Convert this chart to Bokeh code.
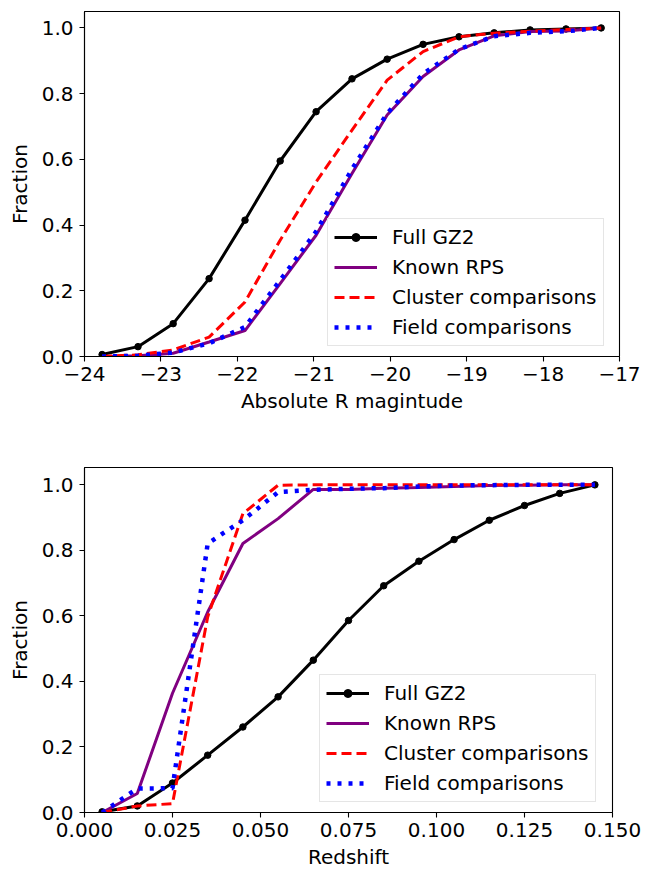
from bokeh.plotting import figure
from bokeh.models import Range1d, FixedTicker, Legend, LegendItem
from bokeh.layouts import column
from bokeh.embed import file_html
from bokeh.resources import INLINE

# ---------------- data ----------------
mag_x = [-23.77, -23.30, -22.84, -22.37, -21.90, -21.44, -20.97, -20.50,
         -20.04, -19.57, -19.10, -18.64, -18.17, -17.70, -17.24]
mag_full = [0.006, 0.03, 0.10, 0.237, 0.415, 0.595, 0.745, 0.845, 0.905,
            0.95, 0.973, 0.985, 0.994, 0.997, 1.0]
mag_rps = [0.0, 0.002, 0.01, 0.044, 0.079, 0.222, 0.369, 0.557, 0.735,
           0.852, 0.933, 0.976, 0.989, 0.991, 1.0]
mag_cluster = [0.0, 0.005, 0.02, 0.059, 0.166, 0.354, 0.531, 0.689, 0.841,
               0.928, 0.973, 0.984, 0.99, 0.995, 1.0]
mag_field = [0.0, 0.002, 0.012, 0.04, 0.09, 0.232, 0.38, 0.57, 0.74,
             0.86, 0.935, 0.975, 0.985, 0.99, 1.0]

z_x = [0.005, 0.015, 0.025, 0.035, 0.045, 0.055, 0.065, 0.075, 0.085,
       0.095, 0.105, 0.115, 0.125, 0.135, 0.145]
z_full = [0.002, 0.02, 0.09, 0.175, 0.261, 0.353, 0.465, 0.586, 0.692,
          0.767, 0.833, 0.892, 0.937, 0.974, 1.0]
z_rps = [0.0, 0.058, 0.364, 0.612, 0.821, 0.897, 0.986, 0.986, 0.99,
         0.992, 0.995, 0.998, 0.999, 1.0, 1.0]
z_cluster = [0.0, 0.02, 0.027, 0.597, 0.912, 0.999, 1.0, 1.0, 1.0,
             1.0, 1.0, 1.0, 1.0, 1.0, 1.0]
z_field = [0.0, 0.073, 0.074, 0.821, 0.892, 0.978, 0.985, 0.988, 0.99,
           0.995, 0.998, 0.999, 1.0, 1.0, 1.0]

series_names = ["Full GZ2", "Known RPS", "Cluster comparisons", "Field comparisons"]

top_xticks = [-24, -23, -22, -21, -20, -19, -18, -17]
top_xlabels = ["\u221224", "\u221223", "\u221222", "\u221221", "\u221220",
               "\u221219", "\u221218", "\u221217"]
bot_xticks = [0.0, 0.025, 0.05, 0.075, 0.1, 0.125, 0.15]
bot_xlabels = ["0.000", "0.025", "0.050", "0.075", "0.100", "0.125", "0.150"]
yticks = [0.0, 0.2, 0.4, 0.6, 0.8, 1.0]
ylabels = ["0.0", "0.2", "0.4", "0.6", "0.8", "1.0"]

FONT = "DejaVu Sans"
FS = "20px"


def style(p, xticks, xlabels, xlabel):
    p.xgrid.visible = False
    p.ygrid.visible = False
    p.outline_line_color = "black"
    p.outline_line_width = 1.1
    p.background_fill_color = "white"
    p.border_fill_color = "white"
    p.xaxis.ticker = FixedTicker(ticks=xticks)
    p.xaxis.major_label_overrides = {t: l for t, l in zip(xticks, xlabels)}
    p.yaxis.ticker = FixedTicker(ticks=yticks)
    p.yaxis.major_label_overrides = {t: l for t, l in zip(yticks, ylabels)}
    p.xaxis.axis_label = xlabel
    p.yaxis.axis_label = "Fraction"
    for ax in (p.xaxis[0], p.yaxis[0]):
        ax.axis_line_color = "black"
        ax.axis_line_width = 1.1
        ax.major_tick_line_color = "black"
        ax.major_tick_line_width = 1.1
        ax.major_tick_in = 0
        ax.major_tick_out = 5
        ax.minor_tick_line_color = None
        ax.major_label_text_font = FONT
        ax.major_label_text_font_size = FS
        ax.major_label_text_color = "black"
        ax.axis_label_text_font = FONT
        ax.axis_label_text_font_size = FS
        ax.axis_label_text_font_style = "normal"
        ax.axis_label_text_color = "black"
    p.xaxis.major_label_standoff = 5
    p.yaxis.major_label_standoff = 6
    p.xaxis.axis_label_standoff = 5
    p.yaxis.axis_label_standoff = 7


def draw(p, x, full, rps, cluster, field, loc):
    r_full = p.line(x, full, line_color="black", line_width=3)
    r_pts = p.scatter(x, full, size=6.5, fill_color="black", line_color="black")
    r_rps = p.line(x, rps, line_color="purple", line_width=3)
    r_cl = p.line(x, cluster, line_color="red", line_width=3,
                  line_dash="10 5")
    r_fd = p.line(x, field, line_color="blue", line_width=4.5,
                  line_dash="4 7")
    legend = Legend(items=[
        LegendItem(label=series_names[0], renderers=[r_full, r_pts]),
        LegendItem(label=series_names[1], renderers=[r_rps]),
        LegendItem(label=series_names[2], renderers=[r_cl]),
        LegendItem(label=series_names[3], renderers=[r_fd]),
    ], location=loc)
    legend.label_text_font = FONT
    legend.label_text_font_size = FS
    legend.label_text_color = "black"
    legend.glyph_width = 43
    legend.glyph_height = 20
    legend.label_height = 20
    legend.spacing = 6
    legend.padding = 6
    legend.margin = 0
    legend.label_standoff = 15
    legend.border_line_color = "#cccccc"
    legend.border_line_width = 1.2
    legend.background_fill_alpha = 0.8
    p.add_layout(legend)


p1 = figure(frame_width=535, frame_height=345, output_backend="svg",
            toolbar_location=None,
            x_range=Range1d(-24, -17), y_range=Range1d(0, 1.05),
            min_border_left=84, min_border_right=26, min_border_top=11,
            min_border_bottom=84)
style(p1, top_xticks, top_xlabels, "Absolute R magintude")
draw(p1, mag_x, mag_full, mag_rps, mag_cluster, mag_field, (243, 10))

p2 = figure(frame_width=528, frame_height=345, output_backend="svg",
            toolbar_location=None,
            x_range=Range1d(0, 0.15), y_range=Range1d(0, 1.053),
            min_border_left=84, min_border_right=33, min_border_top=27,
            min_border_bottom=56)
style(p2, bot_xticks, bot_xlabels, "Redshift")
draw(p2, z_x, z_full, z_rps, z_cluster, z_field, (235, 10))

layout = column(p1, p2, spacing=0)
open("out.html", "w").write(file_html(layout, INLINE))
